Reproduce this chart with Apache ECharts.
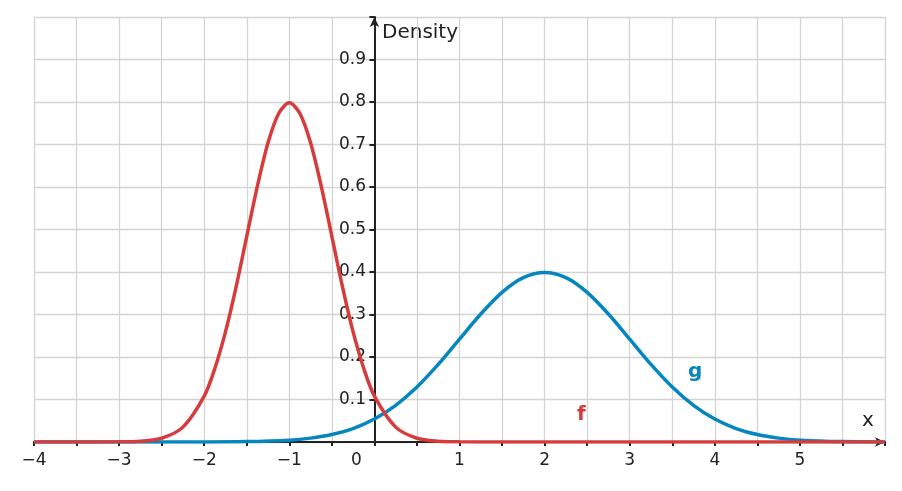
<!DOCTYPE html>
<html><head><meta charset="utf-8">
<script src="https://cdn.jsdelivr.net/npm/echarts@6/dist/echarts.min.js"></script>
<style>html,body{margin:0;padding:0;background:#fff}#c{width:902px;height:491px}</style>
</head><body><div id="c"></div>
<script>
const fX=[-4,-3.5,-3,-2.75,-2.5,-2.25,-2,-1.875,-1.75,-1.625,-1.5,-1.375,-1.25,-1.125,-1,-0.875,-0.75,-0.625,-0.5,-0.375,-0.25,-0.125,0,0.25,0.5,0.75,1,1.5,2,3,4,5,6];
const fY=[0,0,0.0003,0.0018,0.0089,0.035,0.108,0.173,0.259,0.365,0.484,0.602,0.704,0.773,0.798,0.773,0.704,0.602,0.484,0.365,0.259,0.173,0.108,0.035,0.0089,0.0018,0.0003,0,0,0,0,0,0];
const gX=[-4,-3,-2,-1.5,-1,-0.75,-0.5,-0.25,0,0.25,0.5,0.75,1,1.25,1.5,1.75,2,2.25,2.5,2.75,3,3.25,3.5,3.75,4,4.25,4.5,4.75,5,5.5,6];
const gY=[0,0,0.0001,0.0009,0.0044,0.0091,0.0175,0.0317,0.054,0.0863,0.1295,0.1826,0.242,0.3011,0.3521,0.3867,0.399,0.3867,0.3521,0.3011,0.242,0.1826,0.1295,0.0863,0.054,0.0317,0.0175,0.0091,0.0044,0.0009,0.0001];
const xLabels=[-4,-3,-2,-1,0,1,2,3,4,5];
const yLabels=[0.1,0.2,0.3,0.4,0.5,0.6,0.7,0.8,0.9];
const RED='#d63c3c', BLUE='#0586be';
const font='DejaVu Sans';
const chart=echarts.init(document.getElementById('c'));
chart.setOption({
  animation:false,
  textStyle:{fontFamily:font},
  grid:{left:34,right:17,top:17,bottom:49},
  xAxis:{type:'value',min:-4,max:6,interval:0.5,
    axisLine:{onZero:true,symbol:['none','arrow'],symbolSize:[7,10],lineStyle:{color:'#222',width:2}},
    axisTick:{show:true,length:4,inside:false,lineStyle:{color:'#222',width:2}},
    axisLabel:{fontSize:17,color:'#222',margin:10,fontFamily:font,
      formatter:v=>{ if(!xLabels.includes(v)) return ''; if(v===0) return '{z|0}'; return (v<0?'\u2212':'')+Math.abs(v);},
      rich:{z:{fontSize:17,color:'#222',fontFamily:font,padding:[0,36,0,0]}}},
    splitLine:{show:true,lineStyle:{color:'#d4d4d4',width:1.3}}},
  yAxis:{type:'value',min:0,max:1,interval:0.1,
    axisLine:{onZero:true,symbol:['none','arrow'],symbolSize:[7,10],lineStyle:{color:'#222',width:2}},
    axisTick:{show:true,length:5,lineStyle:{color:'#222',width:2}},
    axisLabel:{fontSize:17,color:'#222',margin:-332,fontFamily:font,
      formatter:v=>{const r=Math.round(v*10)/10; return yLabels.includes(r)?r.toFixed(1):'';}},
    splitLine:{show:true,lineStyle:{color:'#d4d4d4',width:1.3}}},
  series:[
    {type:'line',data:gX.map((x,i)=>[x,gY[i]]),smooth:0.3,showSymbol:false,lineStyle:{color:BLUE,width:3.5}},
    {type:'line',data:fX.map((x,i)=>[x,fY[i]]),smooth:0.3,showSymbol:false,lineStyle:{color:RED,width:3.5}}
  ],
  graphic:[
    {type:'text',left:382,top:23,style:{text:'Density',font:'20px '+font,fill:'#222'}},
    {type:'text',left:862,top:411,style:{text:'x',font:'20px '+font,fill:'#222'}},
    {type:'text',left:577,top:405,style:{text:'f',font:'bold 20px '+font,fill:RED}},
    {type:'text',left:688,top:362,style:{text:'g',font:'bold 20px '+font,fill:BLUE}}
  ]
});
</script></body></html>
